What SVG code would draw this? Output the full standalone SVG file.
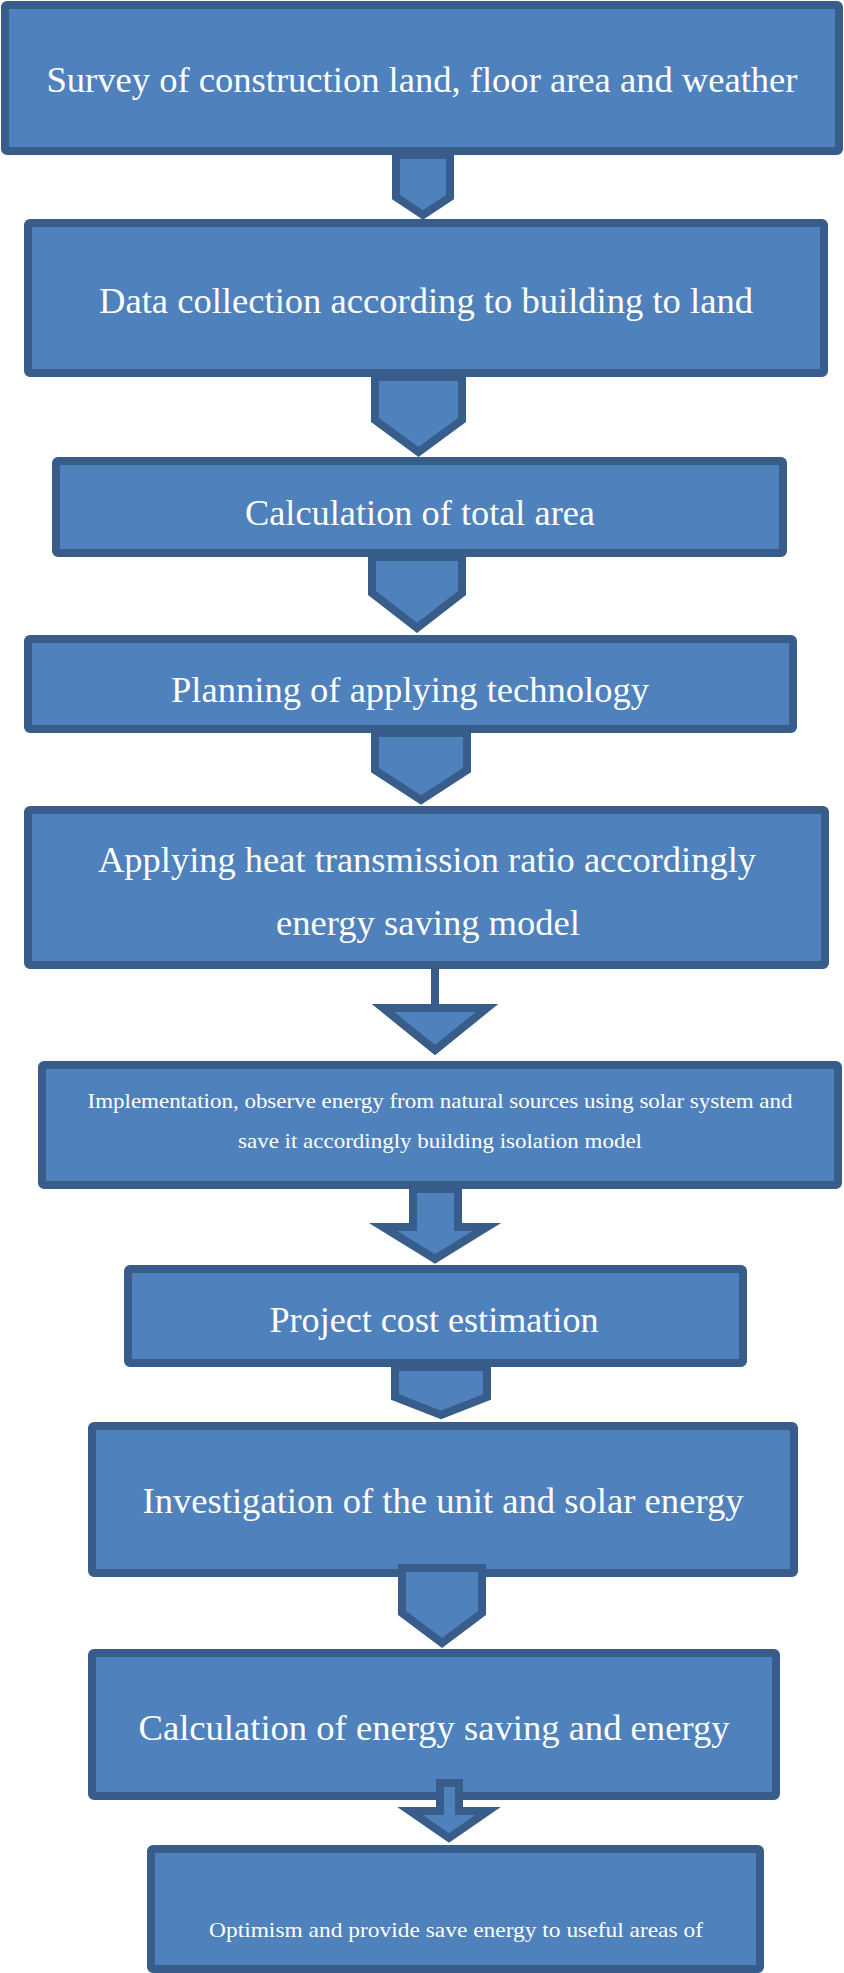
<svg xmlns="http://www.w3.org/2000/svg" width="844" height="1973" viewBox="0 0 844 1973">
<style>
.box{fill:#4F81BD;stroke:#385D8A;stroke-width:8}
.arr{fill:#4F81BD;stroke:#385D8A;stroke-width:8;stroke-linejoin:miter}
.ln{stroke:#385D8A;stroke-width:8;fill:none}
.t{font-family:"Liberation Serif","Times New Roman",serif;fill:#FFFFFF;text-anchor:middle;font-size:36px}
.s{font-size:22px}
</style>
<rect width="844" height="1973" fill="#FFFFFF"/>
<g id="n1"><rect class="box" x="5" y="5" width="834" height="146" rx="2"/><text class="t" x="422" y="92" textLength="751" lengthAdjust="spacingAndGlyphs">Survey of construction land, floor area and weather</text></g>
<g id="n2"><rect class="box" x="28" y="223" width="796" height="150" rx="2"/><text class="t" x="426" y="313" textLength="654" lengthAdjust="spacingAndGlyphs">Data collection  according to building to land</text></g>
<g id="n3"><rect class="box" x="56" y="461" width="727" height="92" rx="2"/><text class="t" x="420" y="525" textLength="350" lengthAdjust="spacingAndGlyphs">Calculation  of total area</text></g>
<g id="n4"><rect class="box" x="28" y="639" width="765" height="90" rx="2"/><text class="t" x="410" y="702" textLength="478" lengthAdjust="spacingAndGlyphs">Planning of applying  technology</text></g>
<g id="n5"><rect class="box" x="28" y="810" width="797" height="155" rx="2"/><text class="t" x="427" y="872" textLength="658" lengthAdjust="spacingAndGlyphs">Applying  heat transmission  ratio accordingly</text><text class="t" x="428" y="935" textLength="304" lengthAdjust="spacingAndGlyphs">energy saving model</text></g>
<g id="n6"><rect class="box" x="42" y="1065" width="796" height="120" rx="2"/><text class="t s" x="440" y="1108" textLength="705" lengthAdjust="spacingAndGlyphs">Implementation, observe energy from natural sources using solar system  and</text><text class="t s" x="440" y="1148" textLength="404" lengthAdjust="spacingAndGlyphs">save it accordingly building isolation model</text></g>
<g id="n7"><rect class="box" x="128" y="1269" width="615" height="94" rx="2"/><text class="t" x="434" y="1332" textLength="329" lengthAdjust="spacingAndGlyphs">Project cost estimation</text></g>
<g id="n8"><rect class="box" x="92" y="1426" width="702" height="147" rx="2"/><text class="t" x="443" y="1513" textLength="601" lengthAdjust="spacingAndGlyphs">Investigation  of the unit and solar  energy</text></g>
<g id="n9"><rect class="box" x="92" y="1653" width="684" height="143" rx="2"/><text class="t" x="434" y="1740" textLength="591" lengthAdjust="spacingAndGlyphs">Calculation  of energy saving and energy</text></g>
<g id="n10"><rect class="box" x="151" y="1849" width="609" height="120" rx="2"/><text class="t s" x="456" y="1937" textLength="494" lengthAdjust="spacingAndGlyphs">Optimism and provide save energy to useful  areas of</text></g>
<g id="connectors">
<path class="arr" d="M396,155 L450,155 L450,197 L423,215 L396,197 Z"/>
<path class="arr" d="M375,377 L462,377 L462,420 L418.5,452 L375,420 Z"/>
<path class="arr" d="M372,557 L462,557 L462,593 L417,628 L372,593 Z"/>
<path class="arr" d="M375,733 L467,733 L467,770 L421,800 L375,770 Z"/>
<line class="ln" x1="435" y1="969" x2="435" y2="1008"/>
<path class="arr" d="M383,1008 L487,1008 L435,1050 Z"/>
<path class="arr" d="M413,1189 L458,1189 L458,1227 L487,1227 L435,1259 L383,1227 L413,1227 Z"/>
<path class="arr" d="M395,1367 L487,1367 L487,1397 L441,1415 L395,1397 Z"/>
<path class="arr" d="M402,1568 L482,1568 L482,1613 L442,1643 L402,1613 Z"/>
<path class="arr" d="M440,1783 L459,1783 L459,1811 L488,1811 L449,1838 L410,1811 L440,1811 Z"/>
</g>
</svg>
